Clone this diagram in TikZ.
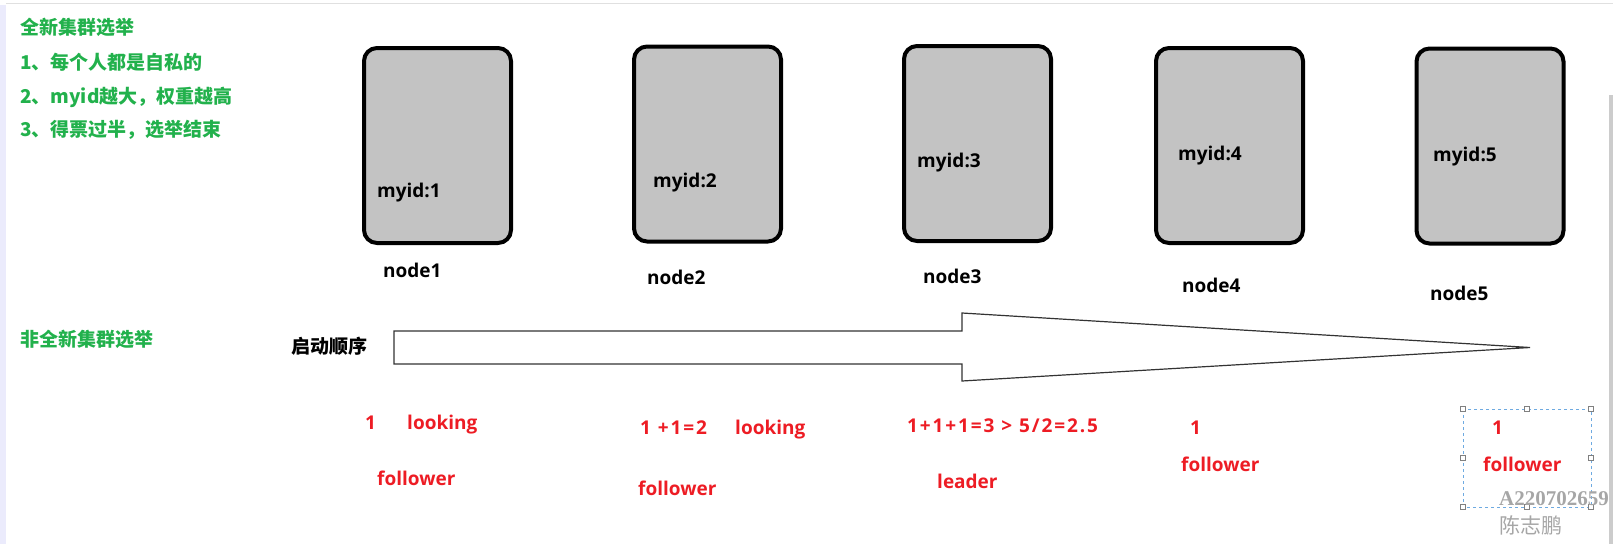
\documentclass[tikz,border=0pt]{standalone}
\usepackage{fontspec}
\setmainfont{Open Sans}
\newfontfamily\cjk{Noto Sans CJK SC}
\newfontfamily\numfont{Open Sans}[LetterSpace=10]
\newfontfamily\markfont{Liberation Serif}
\usetikzlibrary{positioning}
\definecolor{votegreen}{RGB}{34,177,76}
\definecolor{votered}{RGB}{237,28,36}
\definecolor{srvgray}{RGB}{195,195,195}
\definecolor{selblue}{RGB}{110,170,225}

\begin{document}
\begin{tikzpicture}[x=1pt,y=-1pt,
  server/.style={draw=black,line width=4pt,rounded corners=13pt,fill=srvgray,
    minimum width=147pt,minimum height=195pt,inner sep=0pt},
  lbl/.style={inner sep=0pt,anchor=west,font=\bfseries\fontsize{19}{22}\selectfont},
  rule/.style={inner sep=0pt,anchor=west,text=votegreen,font=\cjk\bfseries\fontsize{19}{22}\selectfont},
  vote/.style={inner sep=0pt,anchor=base west,text=votered,font=\bfseries\fontsize{19}{22}\selectfont},
  handle/.style={draw=gray,fill=white,line width=0.8pt,minimum size=5pt,inner sep=0pt}]
\useasboundingbox (0,0) rectangle (1613,544);
\fill[black!12!blue!8!white] (0,5) rectangle (6,544);
\fill[black!20] (1609,95) rectangle (1613,544);
\draw[black!12,line width=1pt] (6,3) -- (1613,3);

\node[rule] (r0) at (20,27) {全新集群选举};
\node[rule] (r1) at (20,62) {1、每个人都是自私的};
\node[rule] (r2) at (20,97) {2、myid越大，权重越高};
\node[rule] (r3) at (20,130) {3、得票过半，选举结束};
\node[rule] (r4) at (20,339) {非全新集群选举};

\foreach \i/\x/\y in {1/437.5/145.5,2/707.5/144,3/977.5/143.5,4/1229.5/145.5,5/1490/146}
  \node[server] (b\i) at (\x,\y) {};

\foreach \i/\x/\y in {1/377/193,2/653/183,3/917/163,4/1178/156,5/1433/157}
  \node[lbl] (id\i) at (\x,\y) {myid:\i};
\foreach \i/\x/\y in {1/383/270,2/647/277,3/923/276,4/1182/285,5/1430/293}
  \node[lbl] (n\i) at (\x,\y) {node\i};

\node[lbl,font=\cjk\bfseries\fontsize{19}{22}\selectfont] (start) at (291,346) {启动顺序};
\coordinate (a1) at (394,331);
\coordinate (a2) at (962,331);
\coordinate (a3) at (962,313);
\coordinate (tip) at (1530,347.5);
\coordinate (a4) at (962,381);
\coordinate (a5) at (962,364);
\coordinate (a6) at (394,364);
\draw[line width=1.2pt,black!80] (a1)--(a2)--(a3)--(tip)--(a4)--(a5)--(a6)--cycle;

\node[vote] (v1) at (365,429) {1};
\node[vote] (s1) at (407,429) {looking};
\node[vote] (f1) at (377,485) {follower};
\node[vote,font=\numfont\bfseries\fontsize{19}{22}\selectfont] (v2) at (640,434) {1 +1=2};
\node[vote] (s2) at (735,434) {looking};
\node[vote] (f2) at (638,495) {follower};
\node[vote,font=\numfont\bfseries\fontsize{19}{22}\selectfont] (v3) at (907,432) {1+1+1=3 > 5/2=2.5};
\node[vote] (f3) at (937,488) {leader};
\node[vote] (v4) at (1190,434) {1};
\node[vote] (f4) at (1181,471) {follower};

\draw[selblue,dashed,line width=1pt] (1463,409) rectangle (1591,507);
\foreach \x/\y in {1463/409,1527/409,1591/409,1463/458,1591/458,1463/507,1527/507,1591/507}
  \node[handle] at (\x,\y) {};
\node[vote] (v5) at (1492,434) {1};
\node[vote] (f5) at (1483,471) {follower};

\node[inner sep=0pt,anchor=base west,text=black!35,font=\markfont\bfseries\fontsize{21}{24}\selectfont] (wm1) at (1499,505) {A220702659};
\node[inner sep=0pt,anchor=base west,text=black!35,font=\cjk\fontsize{21}{24}\selectfont] (wm2) at (1499,533) {陈志鹏};
\end{tikzpicture}
\end{document}
